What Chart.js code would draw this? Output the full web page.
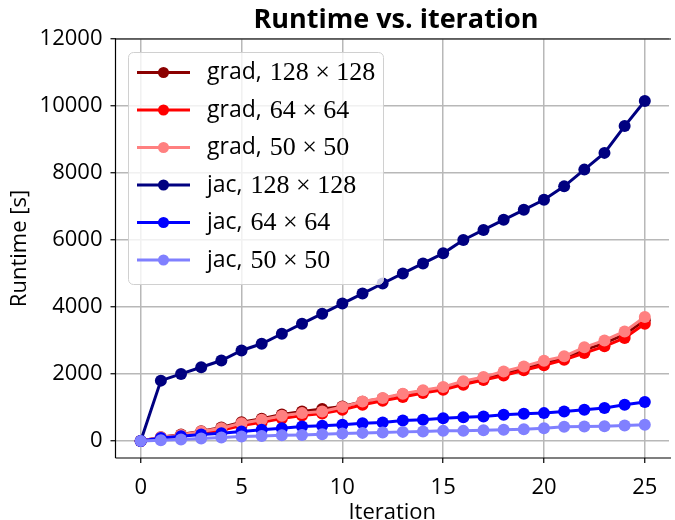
<!DOCTYPE html>
<html>
<head>
<meta charset="utf-8">
<script src="https://cdn.jsdelivr.net/npm/chart.js@4.4.0/dist/chart.umd.min.js"></script>
<style>
  html, body { margin: 0; padding: 0; background: #fff; }
  #wrap { width: 675px; height: 520px; }
</style>
</head>
<body>
<div id="wrap"><canvas id="runtime-chart" width="675" height="520"></canvas></div>
<script>
// ---- data ----
const iterations = [0, 1, 2, 3, 4, 5, 6, 7, 8, 9, 10, 11, 12, 13, 14, 15, 16, 17, 18, 19, 20, 21, 22, 23, 24, 25];

const gradLarge = [0, 110, 190, 290, 400, 560, 660, 790, 880, 950, 1030, 1170, 1270, 1390, 1490, 1590, 1750, 1880, 2030, 2180, 2330, 2480, 2720, 2920, 3180, 3600];
const gradMid   = [0, 90, 150, 230, 320, 460, 560, 670, 760, 820, 930, 1080, 1200, 1310, 1430, 1530, 1680, 1820, 1950, 2110, 2260, 2425, 2625, 2825, 3075, 3500];
const gradSmall = [0, 110, 180, 280, 380, 530, 630, 750, 830, 880, 1010, 1180, 1280, 1410, 1510, 1610, 1780, 1910, 2075, 2225, 2395, 2525, 2795, 3000, 3270, 3700];
const jacLarge  = [0, 1800, 2000, 2200, 2400, 2700, 2900, 3200, 3500, 3800, 4100, 4400, 4700, 5000, 5300, 5600, 6000, 6300, 6600, 6900, 7200, 7600, 8100, 8600, 9400, 10150];
const jacMid    = [0, 90, 140, 190, 230, 280, 330, 380, 430, 450, 480, 530, 550, 610, 630, 680, 710, 730, 780, 810, 830, 880, 930, 980, 1080, 1160];
const jacSmall  = [0, 20, 40, 70, 100, 130, 150, 170, 180, 200, 220, 240, 250, 270, 280, 300, 300, 320, 330, 350, 380, 420, 430, 440, 460, 480];

const methods = ['grad', 'grad', 'grad', 'jac', 'jac', 'jac'];
const gridSizes = [128, 64, 50, 128, 64, 50];
const seriesColors = ['#8b0000', '#ff0000', '#ff8080', '#000080', '#0000ff', '#8080ff'];

const xTicks = [0, 5, 10, 15, 20, 25];
const yTicks = [0, 2000, 4000, 6000, 8000, 10000, 12000];

const SANS = '"Open Sans", "DejaVu Sans", sans-serif';
const SERIF = '"Liberation Serif", "DejaVu Serif", serif';

// ---- frame, title and legend drawn on top ----
const framePlugin = {
  id: 'frame',
  afterDraw(chart) {
    const { ctx, chartArea: a } = chart;
    ctx.save();
    // spines (right one sits just off the canvas)
    ctx.strokeStyle = '#000';
    ctx.lineWidth = 1.2;
    ctx.beginPath();
    ctx.moveTo(a.left, a.bottom); ctx.lineTo(a.left, a.top); ctx.lineTo(a.right + 2, a.top);
    ctx.moveTo(a.left, a.bottom); ctx.lineTo(a.right + 2, a.bottom);
    ctx.stroke();

    // title centred over the axes
    ctx.fillStyle = '#000';
    ctx.font = `bold 27px ${SANS}`;
    ctx.textAlign = 'center';
    ctx.textBaseline = 'alphabetic';
    ctx.fillText('Runtime vs. iteration', (a.left + 676.5) / 2, 28);

    // legend box
    const bx = 128.5, by = 52.5, bw = 255, bh = 232;
    ctx.beginPath();
    ctx.roundRect(bx, by, bw, bh, 5);
    ctx.fillStyle = 'rgba(255,255,255,0.8)';
    ctx.fill();
    ctx.strokeStyle = '#d0d0d0';
    ctx.lineWidth = 1;
    ctx.stroke();

    const rowY = [72.5, 110, 147.5, 185, 222.5, 260];
    methods.forEach((m, i) => {
      const y = rowY[i];
      ctx.strokeStyle = seriesColors[i];
      ctx.lineWidth = 3;
      ctx.beginPath(); ctx.moveTo(137, y); ctx.lineTo(190, y); ctx.stroke();
      ctx.fillStyle = seriesColors[i];
      ctx.beginPath(); ctx.arc(163.5, y, 5.5, 0, Math.PI * 2); ctx.fill();

      ctx.fillStyle = '#000';
      ctx.textAlign = 'left';
      ctx.textBaseline = 'middle';
      ctx.font = `23px ${SANS}`;
      const prefix = m + ', ';
      ctx.fillText(prefix, 207, y);
      const w = ctx.measureText(prefix).width;
      ctx.font = `26px ${SERIF}`;
      ctx.fillText(`${gridSizes[i]} \u00d7 ${gridSizes[i]}`, 207 + w + 2, y + 1);
    });
    ctx.restore();
  }
};

const allSeries = [gradLarge, gradMid, gradSmall, jacLarge, jacMid, jacSmall];

const datasets = allSeries.map((vals, i) => ({
  label: `${methods[i]}, ${gridSizes[i]} \u00d7 ${gridSizes[i]}`,
  data: iterations.map((it, k) => ({ x: it, y: vals[k] })),
  borderColor: seriesColors[i],
  backgroundColor: seriesColors[i],
  borderWidth: 3,
  pointRadius: 6,
  pointHoverRadius: 6,
  pointBorderWidth: 0,
  tension: 0,
  order: allSeries.length - i   // later series on top, like matplotlib
}));

const tickFont = { family: SANS, size: 22 };

new Chart(document.getElementById('runtime-chart').getContext('2d'), {
  type: 'line',
  data: { datasets },
  options: {
    responsive: false,
    animation: false,
    devicePixelRatio: 1,
    layout: { padding: { top: 39, left: 0, right: 0, bottom: 0 } },
    plugins: {
      legend: { display: false },
      title: { display: false },
      tooltip: { enabled: false }
    },
    scales: {
      x: {
        type: 'linear',
        min: -1.25, max: 26.2,
        afterBuildTicks: s => { s.ticks = xTicks.map(v => ({ value: v })); },
        afterFit: s => { s.height = 62; },
        grid: { color: '#b8b8b8', lineWidth: 1.5, tickColor: '#000', tickWidth: 1.2, tickLength: 5 },
        border: { display: false },
        ticks: { font: tickFont, color: '#000', padding: 12, maxRotation: 0 },
        title: { display: true, text: 'Iteration', color: '#000', font: { family: SANS, size: 22, lineHeight: 1 }, padding: { top: 0, bottom: -4 } }
      },
      y: {
        min: -510, max: 12000,
        afterBuildTicks: s => { s.ticks = yTicks.map(v => ({ value: v })); },
        afterFit: s => { s.width = 115.5; },
        grid: { color: '#b8b8b8', lineWidth: 1.5, tickColor: '#000', tickWidth: 1.2, tickLength: 5 },
        border: { display: false },
        ticks: { font: tickFont, color: '#000', padding: 8, callback: v => String(v) },
        title: { display: true, text: 'Runtime [s]', color: '#000', font: { family: SANS, size: 22, lineHeight: 1 }, padding: { top: 9, bottom: 0 } }
      }
    }
  },
  plugins: [framePlugin]
});
</script>
</body>
</html>
